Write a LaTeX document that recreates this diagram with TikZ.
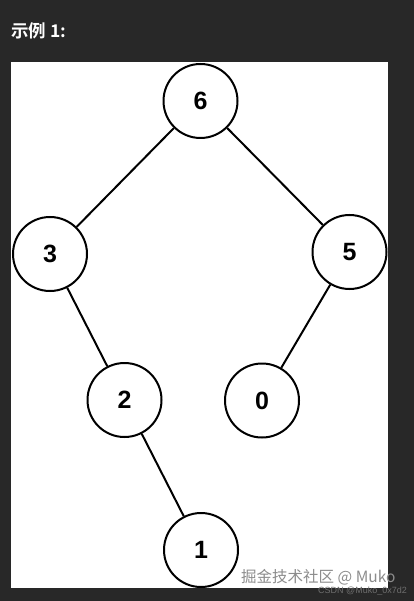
\documentclass[tikz,border=0pt]{standalone}
\usepackage{fontspec}
\setmainfont{Liberation Sans}
\newfontfamily\cjk{Noto Sans CJK SC}
\newfontfamily\cjkb{Noto Sans CJK SC Bold}
\begin{document}
\begin{tikzpicture}[x=1pt,y=-1pt,
  tnode/.style={circle,draw=black,line width=2pt,fill=white,minimum size=74pt,inner sep=0pt,font=\fontsize{25}{25}\selectfont\bfseries},
  tedge/.style={draw=black,line width=2pt}]
\definecolor{bgdark}{HTML}{282828}
\definecolor{wmgray}{HTML}{8C8C8C}
\fill[bgdark] (0,0) rectangle (414,601);
\useasboundingbox (0,0) rectangle (414,601);
\fill[white] (11,62) rectangle (388,588);
\node[anchor=west,text=white,font=\fontsize{17.5}{17.5}\selectfont\cjkb,inner sep=0pt] (title) at (11,31) {示例 1:};
\node[tnode] (n6) at (200.5,101) {6};
\node[tnode] (n3) at (50,254) {3};
\node[tnode] (n5) at (349.5,252) {5};
\node[tnode] (n2) at (124.5,400) {2};
\node[tnode] (n0) at (262,400.5) {0};
\node[tnode] (n1) at (201,550) {1};
\draw[tedge] (n6) -- (n3);
\draw[tedge] (n6) -- (n5);
\draw[tedge] (n3) -- (n2);
\draw[tedge] (n5) -- (n0);
\draw[tedge] (n2) -- (n1);
\node[anchor=west,text=wmgray,font=\fontsize{15.5}{15.5}\selectfont\cjk,inner sep=0pt] (wm1) at (241,577) {掘金技术社区 @ Muko};
\node[anchor=west,text=wmgray!70!bgdark,font=\fontsize{9}{9}\selectfont,inner sep=0pt] (wm2) at (318,591) {CSDN @Muko\_0x7d2};
\end{tikzpicture}
\end{document}
